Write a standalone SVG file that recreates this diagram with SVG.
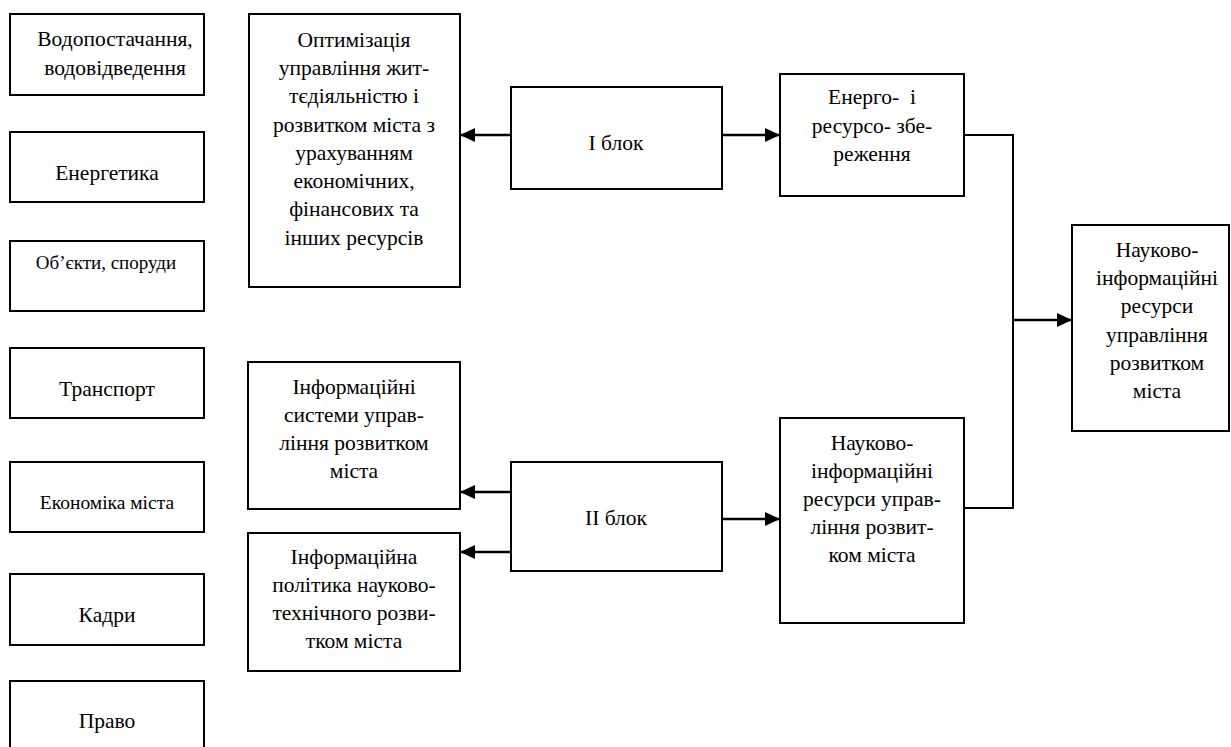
<svg xmlns="http://www.w3.org/2000/svg" width="1231" height="747" viewBox="0 0 1231 747" font-family="'Liberation Serif', 'DejaVu Serif', serif">
<style>
.box{fill:#fff;stroke:#000;stroke-width:2}
.t{font-family:'Liberation Serif','DejaVu Serif',serif;font-size:21.5px;fill:#000;text-anchor:middle;white-space:pre}
.s19{font-size:19px}
.s18{font-size:19.5px}
.c{fill:none;stroke:#000;stroke-width:2.5}
.v{fill:none;stroke:#000;stroke-width:2}
</style>
<defs>
<marker id="ah" markerUnits="userSpaceOnUse" markerWidth="15" markerHeight="14" refX="15" refY="7" orient="auto">
<path d="M0,0 L15,7 L0,14 z" fill="#000"/>
</marker>
</defs>
<rect width="1231" height="747" fill="#fff"/>

<g id="n-water"><rect class="box" x="10" y="14" width="194" height="81"/>
<text class="t" x="115" y="46">Водопостачання,</text>
<text class="t" x="115" y="75">водовідведення</text></g>

<g id="n-energy"><rect class="box" x="10" y="132" width="194" height="70"/>
<text class="t" x="107" y="180">Енергетика</text></g>

<g id="n-objects"><rect class="box" x="10" y="241" width="194" height="70"/>
<text class="t s19" x="106" y="269">Об’єкти, споруди</text></g>

<g id="n-transport"><rect class="box" x="10" y="348" width="194" height="70"/>
<text class="t" x="107" y="396">Транспорт</text></g>

<g id="n-economy"><rect class="box" x="10" y="462" width="194" height="70"/>
<text class="t s18" x="107" y="509">Економіка міста</text></g>

<g id="n-staff"><rect class="box" x="10" y="574" width="194" height="71"/>
<text class="t" x="107" y="622">Кадри</text></g>

<g id="n-law"><rect class="box" x="10" y="681" width="194" height="80"/>
<text class="t" x="107" y="728">Право</text></g>

<g id="n-optim"><rect class="box" x="249" y="14" width="211" height="273"/>
<text class="t" x="354" y="47">Оптимізація</text>
<text class="t" x="354" y="75">управління жит-</text>
<text class="t" x="354" y="103">тєдіяльністю і</text>
<text class="t" x="354" y="132">розвитком міста з</text>
<text class="t" x="354" y="160">урахуванням</text>
<text class="t" x="354" y="188">економічних,</text>
<text class="t" x="354" y="216">фінансових та</text>
<text class="t" x="354" y="245">інших ресурсів</text></g>

<g id="n-block1"><rect class="box" x="511" y="87" width="211" height="102"/>
<text class="t" x="616" y="150">I блок</text></g>

<g id="n-energo"><rect class="box" x="780" y="74" width="184" height="122"/>
<text class="t" x="872" y="104">Енерго-  і</text>
<text class="t" x="872" y="133">ресурсо- збе-</text>
<text class="t" x="872" y="161">реження</text></g>

<g id="n-result"><rect class="box" x="1072" y="225" width="157" height="206"/>
<text class="t" x="1157" y="257">Науково-</text>
<text class="t" x="1157" y="285">інформаційні</text>
<text class="t" x="1157" y="313">ресурси</text>
<text class="t" x="1157" y="342">управління</text>
<text class="t" x="1157" y="370">розвитком</text>
<text class="t" x="1157" y="398">міста</text></g>

<g id="n-infosys"><rect class="box" x="248" y="362" width="212" height="147"/>
<text class="t" x="354" y="394">Інформаційні</text>
<text class="t" x="354" y="422">системи управ-</text>
<text class="t" x="354" y="450">ління розвитком</text>
<text class="t" x="354" y="478">міста</text></g>

<g id="n-infopol"><rect class="box" x="248" y="533" width="212" height="138"/>
<text class="t" x="354" y="564">Інформаційна</text>
<text class="t" x="354" y="592">політика науково-</text>
<text class="t" x="354" y="620">технічного розви-</text>
<text class="t" x="354" y="648">тком міста</text></g>

<g id="n-block2"><rect class="box" x="511" y="462" width="211" height="109"/>
<text class="t" x="616" y="525">II блок</text></g>

<g id="n-sci"><rect class="box" x="780" y="418" width="184" height="205"/>
<text class="t" x="872" y="450">Науково-</text>
<text class="t" x="872" y="478">інформаційні</text>
<text class="t" x="872" y="506">ресурси управ-</text>
<text class="t" x="872" y="534">ління розвит-</text>
<text class="t" x="872" y="562">ком міста</text></g>

<g id="connectors">
<line class="c" x1="511" y1="135" x2="460" y2="135" marker-end="url(#ah)"/>
<line class="c" x1="722" y1="135" x2="780" y2="135" marker-end="url(#ah)"/>
<polyline class="v" points="964,135 1013,135 1013,508 964,508"/>
<line class="c" x1="1013" y1="320" x2="1072" y2="320" marker-end="url(#ah)"/>
<line class="c" x1="511" y1="492" x2="460" y2="492" marker-end="url(#ah)"/>
<line class="c" x1="511" y1="552" x2="460" y2="552" marker-end="url(#ah)"/>
<line class="c" x1="722" y1="519" x2="780" y2="519" marker-end="url(#ah)"/>
</g>
</svg>
